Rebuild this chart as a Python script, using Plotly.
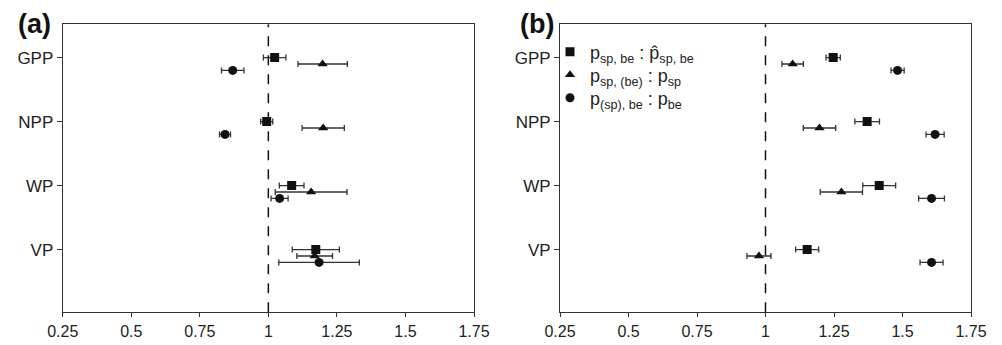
import plotly.graph_objects as go

W, H = 1002, 345
OFF = 8  # page body margin in the viewer

categories = ["GPP", "NPP", "WP", "VP"]

# Panel (a)
a_sq = [1.023, 0.994, 1.085, 1.173]
a_sq_err = [0.041, 0.022, 0.045, 0.086]
a_tr = [1.198, 1.200, 1.156, 1.169]
a_tr_err = [0.090, 0.077, 0.131, 0.065]
a_ci = [0.870, 0.842, 1.041, 1.185]
a_ci_err = [0.041, 0.020, 0.031, 0.147]

# Panel (b)
b_sq = [1.247, 1.371, 1.415, 1.152]
b_sq_err = [0.026, 0.045, 0.060, 0.042]
b_tr = [1.099, 1.197, 1.277, 0.976]
b_tr_err = [0.039, 0.059, 0.077, 0.044]
b_ci = [1.482, 1.619, 1.606, 1.606]
b_ci_err = [0.024, 0.033, 0.047, 0.042]

x_ticks = [0.25, 0.5, 0.75, 1, 1.25, 1.5, 1.75]
x_ticktext = ["0.25", "0.5", "0.75", "1", "1.25", "1.5", "1.75"]

legend_names = [
    "p<sub>sp, be</sub> : p\u0302<sub>sp, be</sub>",
    "p<sub>sp, (be)</sub> : p<sub>sp</sub>",
    "p<sub>(sp), be</sub> : p<sub>be</sub>",
]

offsets = [0.0, 0.1, 0.2]
symbols = ["square", "triangle-up", "circle"]
sizes = [9, 9, 9]
legend_ids = ["legend", "legend2", "legend3"]
legend_rows_px = [52, 75, 98]


def px(x):
    return (x - OFF) / W


def py(y):
    return 1 - (y - OFF) / H


fig = go.Figure()

panels = [
    ("x", "y", [(a_sq, a_sq_err), (a_tr, a_tr_err), (a_ci, a_ci_err)], False),
    ("x2", "y2", [(b_sq, b_sq_err), (b_tr, b_tr_err), (b_ci, b_ci_err)], True),
]

ypos = list(range(len(categories)))
for xa, ya, series, showleg in panels:
    for k, (vals, errs) in enumerate(series):
        fig.add_trace(go.Scatter(
            x=vals,
            y=[p + offsets[k] for p in ypos],
            mode="markers",
            marker=dict(symbol=symbols[k], size=sizes[k], color="#111111"),
            error_x=dict(type="data", array=errs, visible=True, color="#333333",
                         thickness=1.3, width=3),
            name=legend_names[k],
            showlegend=showleg,
            legend=legend_ids[k],
            xaxis=xa, yaxis=ya,
        ))

left_a, right_a = 62.7, 474.0
left_b, right_b = 560.0, 971.0
top_px, bot_px = 24.3, 312.3
ydom = [py(bot_px), py(top_px)]

font_family = "Liberation Sans, Arial, sans-serif"
txt_color = "#222222"

xcommon = dict(range=[0.25, 1.75], tickvals=x_ticks, ticktext=x_ticktext,
               showgrid=False, zeroline=False, showline=True, mirror=True,
               linecolor="#333333", linewidth=1, ticks="outside", ticklen=4,
               tickcolor="#333333", automargin=False,
               tickfont=dict(size=16, color=txt_color, family=font_family))
ycommon = dict(range=[3.98, -0.52], tickvals=ypos, ticktext=categories,
               showgrid=False, zeroline=False, showline=True, mirror=True,
               linecolor="#333333", linewidth=1, ticks="outside", ticklen=5,
               tickcolor="#333333", automargin=False,
               tickfont=dict(size=17, color=txt_color, family=font_family),
               domain=ydom)

legend_common = dict(xanchor="left", yanchor="middle", bgcolor="rgba(0,0,0,0)",
                     font=dict(size=18, color=txt_color, family=font_family),
                     itemwidth=30, borderwidth=0)

layout_legends = {}
for lid, rowy in zip(legend_ids, legend_rows_px):
    layout_legends[lid] = dict(x=px(550), y=py(rowy), **legend_common)

fig.update_layout(
    width=W, height=H,
    margin=dict(l=0, r=0, t=0, b=0, autoexpand=False),
    paper_bgcolor="white", plot_bgcolor="white",
    font=dict(family=font_family, color=txt_color),
    xaxis=dict(domain=[px(left_a), px(right_a)], anchor="y", **xcommon),
    yaxis=dict(anchor="x", **ycommon),
    xaxis2=dict(domain=[px(left_b), px(right_b)], anchor="y2", **xcommon),
    yaxis2=dict(anchor="x2", **ycommon),
    showlegend=True,
    **layout_legends,
)

for xa in ["x", "x2"]:
    fig.add_shape(type="line", xref=xa, x0=1, x1=1, yref="paper",
                  y0=ydom[0], y1=ydom[1],
                  line=dict(color="#111111", width=1.5, dash="10px,9px"))

fig.add_annotation(text="<b>(a)</b>", x=px(16), y=py(24), xref="paper", yref="paper",
                   xanchor="left", yanchor="middle", showarrow=False,
                   font=dict(size=27, color="#111111", family=font_family))
fig.add_annotation(text="<b>(b)</b>", x=px(518), y=py(24), xref="paper", yref="paper",
                   xanchor="left", yanchor="middle", showarrow=False,
                   font=dict(size=27, color="#111111", family=font_family))

fig.write_html("out.html")
